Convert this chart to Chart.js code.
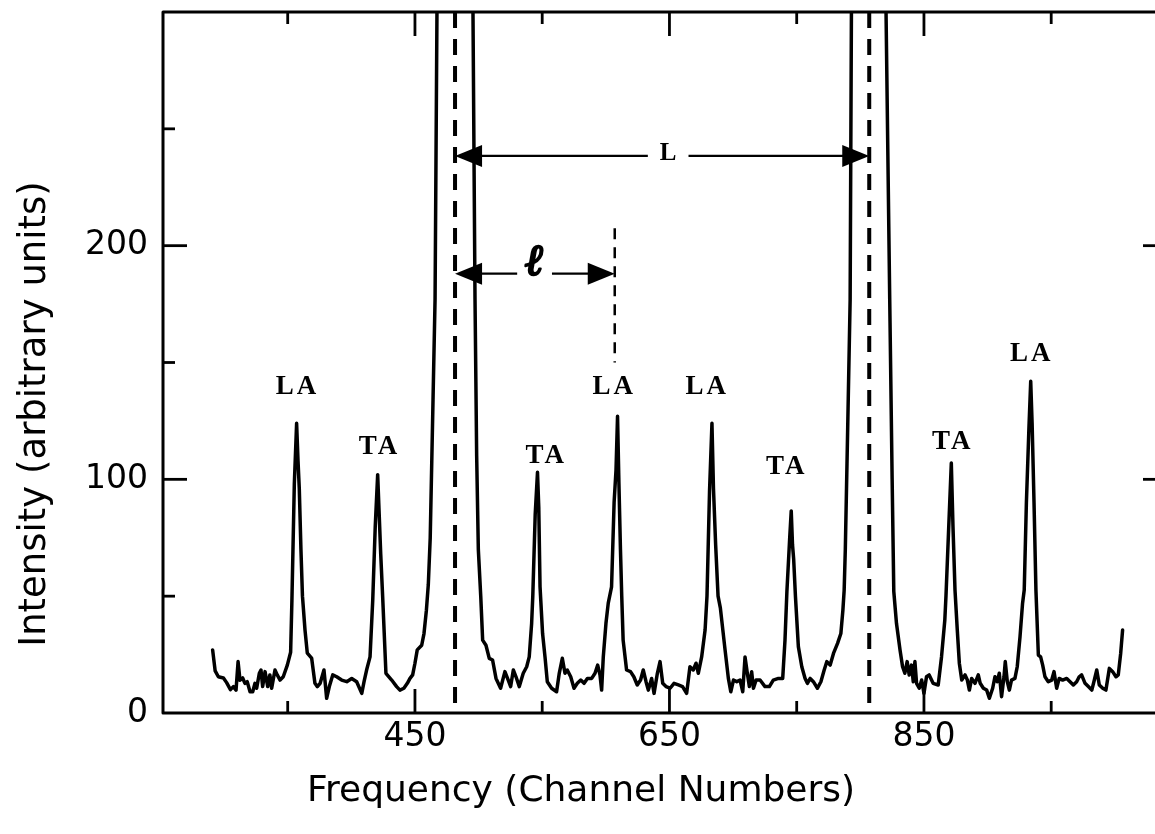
<!DOCTYPE html>
<html>
<head>
<meta charset="utf-8">
<title>Brillouin spectrum</title>
<script src="https://cdn.jsdelivr.net/npm/chart.js@4.4.1/dist/chart.umd.min.js"></script>
<style>
  html, body { margin: 0; padding: 0; background: #fff; overflow: hidden; }
  #wrap { width: 1170px; height: 834px; }
</style>
</head>
<body>
<div id="wrap"><canvas id="spectrum" width="1170" height="834"></canvas></div>
<script>
// Recorded spectrum: channel number and counts
const channel = [
  291, 293, 295.5, 299.5, 302, 305, 307.3, 309.4, 311, 312.5, 314.6, 316.4, 318.2, 320.4, 322.5, 324.3,
  325.6, 327.7, 329, 330.3, 332.2, 334.3, 336, 337.4, 340, 341.8, 344, 346.5, 349.7, 352.3,
  353.3, 355.2, 357, 358.1, 359.1, 360.4, 361.6, 363.6, 365.4, 368.8, 371.4, 373.3, 375.5, 378.5,
  380.6, 382.7, 385.4, 388.5, 392.4, 396.4, 400.3, 404.2, 408.2, 410, 412, 414.7,
  416.8, 418.8, 420.7, 421.9, 423.1, 424.6, 427.2, 431.7, 435.6, 438.2, 441.3, 444, 446.1, 448.2,
  450, 451.8, 455.3, 457.1, 459, 460.5, 462, 464.2, 465.8, 467.3, 469, 472, 476, 481.5, 487, 491,
  494, 495.6, 497.2, 498.5, 499.8, 501.7, 503.2, 505.8, 508.4, 511, 513.7, 517.3, 520.7, 523.3,
  525.2, 527.3, 529.4, 532, 535.1, 537.8, 539.8, 541.7, 542.6, 544.5, 546.3, 547.3, 548.3, 550.3,
  552.2, 554, 557.4, 561.3, 563.4, 565.8, 567.9, 569.7, 572.4, 575, 577.6, 580.3, 582.9, 585.5,
  588.9, 591.5, 593.6, 595.4, 596.7, 598, 600.1, 601.9, 604.5, 606.5, 608, 609.2, 610.3, 611.5,
  612.5, 613.6, 616.3, 619.4, 622, 624.7, 627.3, 629.4, 631.6, 633.4, 636, 637.9, 640.5, 642.6,
  644.7, 647.3, 650.5, 653.6, 657, 660.3, 663.5, 666.1, 668.7, 670.9, 672.7, 675.3, 678, 679.5,
  681.5, 683.4, 684.6, 686.3, 688.2, 690, 693.7, 696.3, 698.2, 700.3, 702.9, 705.5, 707.6, 709.4,
  711.2, 712.8, 714.6, 716, 718.1, 721.2, 725.1, 728.5, 731.6, 735.6, 739, 740.8, 742.3, 744.5,
  745.7, 746.7, 747.6, 749, 751.3, 754, 756.6, 758.4, 760.6, 763.1, 766.3, 769, 771.6, 773.7,
  776.3, 778.9, 782.1, 784.7, 786.3, 787.3, 788.2, 790, 792, 793, 795, 799, 807, 814, 818, 820.2,
  823.1, 825, 826.3, 828.4, 831.2, 833.2, 835, 836.8, 838.4, 840.2, 841.6, 842.9, 844.2, 846.3,
  848.2, 850, 852, 854.1, 857.2, 861.2, 863.8, 866.4, 867.3, 869.5, 871.5, 872.8, 874.4, 876.2,
  877.8, 879.7, 882.3, 884.1, 885.7, 887.5, 890.1, 892.7, 894.2, 896.7, 899.3, 901.4, 904, 905.8,
  907.6, 909.2, 911, 912.9, 913.9, 915.5, 917.1, 918.8, 921.5, 923.3, 925.5, 927.5, 928.8, 930.5,
  932.5, 933.9, 935, 936.5, 938, 939.9, 941.7, 943.3, 945.1, 947.7, 950.4, 952.2, 954.3, 956.3,
  959, 962.2, 964.8, 967.4, 970, 972, 973.9, 976.6, 979.2, 981.9, 983.9, 985.8, 987.8, 990.5,
  993, 995.7, 998.3, 1000.9, 1002.7, 1004.6, 1006.1
];
const intensity = [
  27, 18, 15.5, 15, 13, 10, 11.3, 9.8, 22, 14, 15, 12.7, 13.4, 9.1, 9.1, 12.7,
  10.6, 17, 18.4, 11.3, 17.7, 11.3, 16.3, 10.6, 18.4, 16.3, 14.1, 15.5, 20.5, 26,
  48, 98, 124, 108, 96, 70, 50, 35.5, 25.6, 23.5, 12.7, 11.3, 12.7, 18.4,
  6.3, 11.3, 16.3, 15.5, 14.1, 13.4, 14.8, 13.4, 8.4, 13.4, 18.4, 24,
  48, 80, 102, 85, 68, 50, 17, 14.1, 11.3, 9.8, 10.6, 12.7, 14.8, 16.3,
  21.3, 27, 29, 34, 44, 55, 75, 134, 177, 300, 520, 900, 1300, 1600, 1300, 900,
  520, 300, 177, 110, 70, 50, 31.2, 29, 23.4, 22.7, 14.8, 10.6, 17.7, 14.1,
  11.3, 18.4, 15.5, 11.3, 17, 19.8, 24, 38.4, 50, 85, 103, 88, 54, 34,
  24, 13.4, 10.6, 9.1, 17, 23.4, 17, 18.4, 15.5, 10.6, 12.7, 14.1, 12.7, 14.8,
  14.8, 17, 20.5, 16.3, 9.8, 24, 38.4, 47, 54, 90, 104, 127, 98, 70,
  50, 31.2, 18.4, 17.7, 15.5, 12, 14.1, 18.4, 13.4, 9.8, 14.8, 8.4, 17, 22,
  12.7, 11.3, 10.6, 12.7, 12, 11.3, 8.4, 19.8, 18.4, 21.3, 17, 24, 35.5, 50,
  95, 124, 96, 72, 50, 45, 27, 14.8, 9.1, 14.1, 13.4, 14.1, 9.1, 24,
  17, 11.3, 17.7, 10.6, 14.1, 14.1, 11.3, 11.3, 14.1, 14.8, 14.8, 31.2, 52, 75,
  86.5, 72, 66, 50, 28.4, 19.8, 14.8, 12.7, 14.8, 13.4, 10.6, 13.4, 18.4, 22,
  20.5, 25.5, 29.8, 34, 44, 52.6, 70, 120, 177, 300, 520, 1000, 1600, 1000, 520, 300,
  177, 100, 52, 38.4, 27, 19.8, 17, 22, 16.3, 20.5, 13.4, 22, 12.7, 10.6,
  14.1, 8.4, 15.5, 16.3, 12.7, 12, 24, 39.8, 50, 80, 107, 80, 52.6, 35.5,
  21.3, 14.1, 16.3, 14.1, 9.8, 14.8, 12.7, 16.3, 12.7, 10.6, 9.8, 6.3, 10.6, 15.5,
  13.4, 17, 7, 15.5, 22, 13.4, 9.8, 14.1, 14.8, 19.8, 32.7, 47, 52.6, 90,
  122, 142, 124, 90, 52.6, 24.8, 24, 20.5, 15.5, 13.4, 14.1, 17.7, 10.6, 14.8,
  14.1, 14.8, 13.4, 12, 13.4, 15.5, 16.3, 12.7, 11.3, 9.8, 14.1, 18.4, 12, 10.6,
  9.8, 19.1, 17.7, 15.5, 16.3, 25.5, 35.5
];

// Axis ticks
const xTicks = [350, 450, 550, 650, 750, 850, 950];
const xTickLabels = [450, 650, 850];
const yTicks = [0, 50, 100, 150, 200, 250];
const yTickLabels = [0, 100, 200];

// Phonon peak labels (longitudinal / transverse acoustic)
const peakNames = ['LA', 'TA', 'TA', 'LA', 'LA', 'TA', 'TA', 'LA'];
const peakLabelChannel = [356.5, 421, 552, 605.5, 678.5, 741, 871.5, 933.5];
const peakLabelLevel = [139.5, 113.8, 110, 139.5, 139.5, 105.3, 116, 153.6];

// Centres of the elastic (Rayleigh) orders, drawn dashed
const rayleighCentres = [481.5, 807];

// Spacing arrows: free spectral range L and Brillouin shift l
const spanNames = ['L', 'ℓ'];
const spanFrom = [481.5, 481.5];
const spanTo = [807, 607];
const spanLevel = [238.4, 188];
const spanLabelChannel = [649, 544];
const shiftMarkerRange = [150, 207.5];

const pairs = channel.map((c, i) => ({ x: c, y: intensity[i] }));

function seg(ctx, x0, y0, x1, y1) {
  ctx.beginPath(); ctx.moveTo(x0, y0); ctx.lineTo(x1, y1); ctx.stroke();
}
function head(ctx, tipX, tipY, dir) {
  ctx.beginPath();
  ctx.moveTo(tipX, tipY);
  ctx.lineTo(tipX - dir * 27, tipY - 11);
  ctx.lineTo(tipX - dir * 27, tipY + 11);
  ctx.closePath();
  ctx.fill();
}

const decorations = {
  id: 'decorations',
  beforeDraw(chart) {
    const ctx = chart.ctx;
    ctx.save();
    ctx.fillStyle = '#fff';
    ctx.fillRect(0, 0, chart.width, chart.height);
    ctx.restore();
  },
  afterDraw(chart) {
    const { ctx, chartArea: a, scales: { x, y } } = chart;
    ctx.save();
    ctx.strokeStyle = '#000';
    ctx.fillStyle = '#000';
    ctx.lineCap = 'butt';

    // dashed centre lines of the elastic peaks
    ctx.lineWidth = 4;
    ctx.setLineDash([16, 11]);
    rayleighCentres.forEach(c => {
      const px = x.getPixelForValue(c);
      seg(ctx, px, a.top, px, a.bottom);
    });

    // short dashed marker at the end of the shift arrow
    ctx.lineWidth = 2.5;
    ctx.setLineDash([11, 8]);
    const mx = x.getPixelForValue(spanTo[1]);
    seg(ctx, mx, y.getPixelForValue(shiftMarkerRange[1]), mx, y.getPixelForValue(shiftMarkerRange[0]));
    ctx.setLineDash([]);

    // spacing arrows with their labels
    spanNames.forEach((name, i) => {
      const x0 = x.getPixelForValue(spanFrom[i]);
      const x1 = x.getPixelForValue(spanTo[i]);
      const py = y.getPixelForValue(spanLevel[i]);
      const lx = x.getPixelForValue(spanLabelChannel[i]);
      ctx.font = i === 0 ? 'bold 25px "Liberation Serif", "DejaVu Serif", serif'
                         : 'bold italic 44px "Liberation Serif", "DejaVu Serif", serif';
      const w = ctx.measureText(name).width;
      const gap = w / 2 + (i === 0 ? 12 : 8);
      ctx.lineWidth = 2.2;
      seg(ctx, x0 + 20, py, lx - gap, py);
      seg(ctx, lx + gap, py, x1 - 20, py);
      head(ctx, x0, py, -1);
      head(ctx, x1, py, 1);
      ctx.textAlign = 'center';
      if (i === 0) {
        ctx.textBaseline = 'middle';
        ctx.fillText(name, lx, py - 2);
      } else {
        ctx.textBaseline = 'alphabetic';
        ctx.lineWidth = 2.2;
        ctx.lineJoin = 'round';
        ctx.strokeText(name, lx, py + 1);
        ctx.fillText(name, lx, py + 1);
      }
    });

    // peak labels
    ctx.font = 'bold 27px "Liberation Serif", "DejaVu Serif", serif';
    ctx.letterSpacing = '3px';
    ctx.textAlign = 'center';
    ctx.textBaseline = 'middle';
    peakNames.forEach((n, i) => {
      ctx.fillText(n, x.getPixelForValue(peakLabelChannel[i]) + 1.5, y.getPixelForValue(peakLabelLevel[i]));
    });
    ctx.letterSpacing = '0px';

    // frame with inward ticks on all four sides
    ctx.lineWidth = 3;
    ctx.strokeRect(a.left, a.top, a.right - a.left, a.bottom - a.top);
    ctx.lineWidth = 2.8;
    xTicks.forEach(v => {
      const px = x.getPixelForValue(v);
      const len = xTickLabels.includes(v) ? 24 : 12;
      seg(ctx, px, a.bottom, px, a.bottom - len);
      seg(ctx, px, a.top, px, a.top + len);
    });
    yTicks.forEach(v => {
      if (v === 0) return;
      const py = y.getPixelForValue(v);
      const len = yTickLabels.includes(v) ? 24 : 12;
      seg(ctx, a.left, py, a.left + len, py);
      seg(ctx, a.right, py, a.right - len, py);
    });

    // axis titles
    ctx.font = '36px "DejaVu Sans", sans-serif';
    ctx.textAlign = 'center';
    ctx.textBaseline = 'alphabetic';
    ctx.fillText('Frequency (Channel Numbers)', 581, 801);
    ctx.translate(45, 414);
    ctx.rotate(-Math.PI / 2);
    ctx.font = '37px "DejaVu Sans", sans-serif';
    ctx.fillText('Intensity (arbitrary units)', 0, 0);
    ctx.restore();
  }
};

const tickFont = { family: '"DejaVu Sans", sans-serif', size: 33 };

new Chart(document.getElementById('spectrum'), {
  type: 'line',
  data: {
    datasets: [{
      data: pairs,
      borderColor: '#000',
      borderWidth: 3.5,
      borderJoinStyle: 'round',
      borderCapStyle: 'round',
      pointRadius: 0,
      tension: 0,
      fill: false
    }]
  },
  options: {
    responsive: false,
    animation: false,
    events: [],
    layout: { padding: { top: 12, right: 3, left: 0, bottom: 0 } },
    plugins: { legend: { display: false }, tooltip: { enabled: false } },
    scales: {
      x: {
        type: 'linear',
        min: 252,
        max: 1041,
        grid: { display: false, drawTicks: false },
        border: { display: false },
        afterBuildTicks: s => { s.ticks = xTicks.map(v => ({ value: v })); },
        afterFit: s => { s.height = 121; s.paddingLeft = 0; s.paddingRight = 0; },
        ticks: {
          autoSkip: false,
          maxRotation: 0,
          padding: 5,
          color: '#000',
          font: tickFont,
          callback: v => (xTickLabels.includes(v) ? String(v) : null)
        }
      },
      y: {
        type: 'linear',
        min: 0,
        max: 300,
        grid: { display: false, drawTicks: false },
        border: { display: false },
        afterBuildTicks: s => { s.ticks = yTicks.map(v => ({ value: v })); },
        afterFit: s => { s.width = 163; s.paddingTop = 0; s.paddingBottom = 0; },
        ticks: {
          padding: 15,
          color: '#000',
          font: tickFont,
          callback: v => (yTickLabels.includes(v) ? String(v) : null)
        }
      }
    }
  },
  plugins: [decorations]
});
</script>
</body>
</html>
